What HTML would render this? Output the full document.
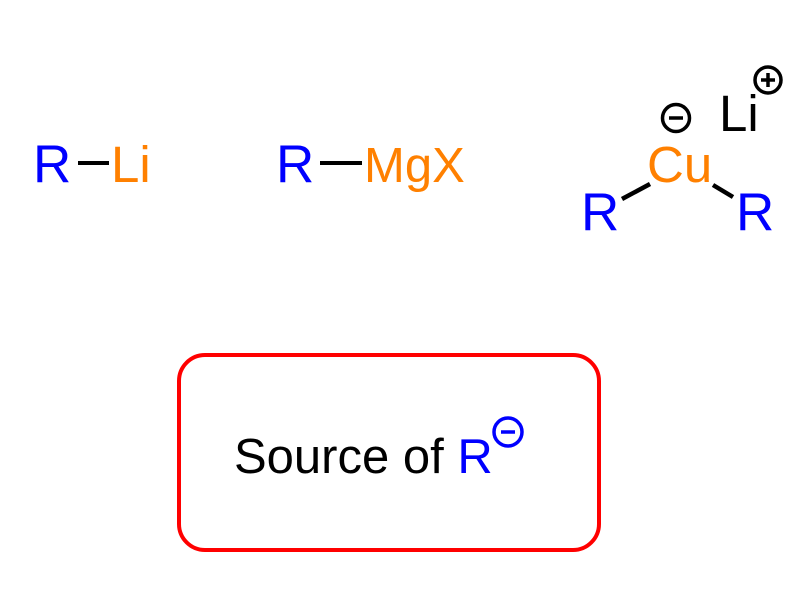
<!DOCTYPE html>
<html><head><style>body{margin:0;background:#fff}svg{display:block}</style></head>
<body>
<svg width="811" height="591" viewBox="0 0 811 591" xmlns="http://www.w3.org/2000/svg" font-family="Liberation Sans, Arial, sans-serif" font-size="53">
<text x="33" y="182" fill="#0000ff">R</text>
<line x1="78" y1="163" x2="109" y2="163" stroke="#000" stroke-width="4"/>
<text x="111" y="182" fill="#ff8000" font-size="51">Li</text>
<text x="276" y="182" fill="#0000ff">R</text>
<line x1="320" y1="163" x2="362" y2="163" stroke="#000" stroke-width="4"/>
<text x="364" y="182" fill="#ff8000" font-size="49">MgX</text>
<text x="647" y="182" fill="#ff8000" font-size="51">Cu</text>
<text x="581" y="230" fill="#0000ff">R</text>
<text x="736" y="230" fill="#0000ff">R</text>
<line x1="622" y1="199" x2="650" y2="184" stroke="#000" stroke-width="4.5"/>
<line x1="713" y1="185" x2="733" y2="197" stroke="#000" stroke-width="4.5"/>
<text x="719" y="131" fill="#000" font-size="51">Li</text>
<circle cx="676" cy="118" r="13.5" fill="none" stroke="#000" stroke-width="3.5"/>
<line x1="669" y1="118" x2="683" y2="118" stroke="#000" stroke-width="3.5"/>
<circle cx="768" cy="80" r="13" fill="none" stroke="#000" stroke-width="3.5"/>
<line x1="761" y1="80" x2="775" y2="80" stroke="#000" stroke-width="3.5"/>
<line x1="768" y1="73" x2="768" y2="87" stroke="#000" stroke-width="3.5"/>
<rect x="179" y="355" width="420" height="195" rx="26" fill="none" stroke="#ff0000" stroke-width="4"/>
<text x="234" y="473" font-size="49" fill="#000">Source of <tspan fill="#0000ff">R</tspan></text>
<circle cx="508" cy="432" r="14" fill="none" stroke="#0000ff" stroke-width="3.5"/>
<line x1="501" y1="432" x2="515" y2="432" stroke="#0000ff" stroke-width="3.5"/>
</svg>
</body></html>
